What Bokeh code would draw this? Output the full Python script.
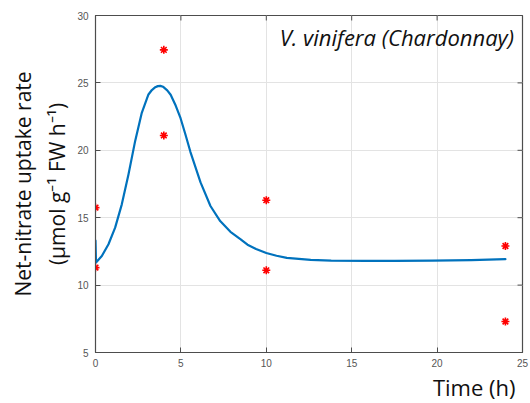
from bokeh.plotting import figure
from bokeh.models import Range1d, Label, Title, FixedTicker
from bokeh.embed import file_html
from bokeh.resources import INLINE

# Measured net-nitrate uptake (two replicates per sampling time)
obs_time = [0, 0, 4, 4, 10, 10, 24, 24]
obs_rate = [15.75, 11.3, 27.45, 21.1, 16.3, 11.1, 12.9, 7.3]

# Fitted model response
fit_time = [0, 0.03, 0.37, 0.76, 1.15, 1.54, 1.93, 2.32, 2.71, 3.1, 3.3, 3.5,
            3.65, 3.8, 3.95, 4.2, 4.4, 4.7, 4.98, 5.27, 5.56, 6.15, 6.73, 7.3, 7.9,
            8.5, 8.9, 9.4, 10.0, 10.6, 11.2, 12.6, 13.8, 15.8, 17.5, 19.7, 22.0, 24.0]
fit_rate = [13.3, 11.68, 12.16, 13.03, 14.26, 15.99, 18.21, 20.68, 22.78, 24.14,
            24.47, 24.68, 24.76, 24.78, 24.72, 24.45, 24.12, 23.3, 22.38, 21.15,
            19.87, 17.62, 15.87, 14.75, 13.95, 13.4, 13.0, 12.68, 12.38, 12.18,
            12.02, 11.87, 11.82, 11.8, 11.8, 11.82, 11.86, 11.92]

x_ticks = [0, 5, 10, 15, 20, 25]
y_ticks = [5, 10, 15, 20, 25, 30]

title_text = "V. vinifera (Chardonnay)"
x_label = "Time (h)"
y_label_1 = "Net-nitrate uptake rate"
y_label_2 = "(\u00b5mol g\u207b\u00b9 FW h\u207b\u00b9)"

X0, X1, Y0, Y1 = 0, 25, 5, 30

p = figure(width=530, height=403, output_backend="svg", toolbar_location=None,
           x_range=Range1d(X0, X1), y_range=Range1d(Y0, Y1),
           min_border_left=95, min_border_right=8, min_border_top=15,
           min_border_bottom=51)
p.background_fill_color = "white"
p.border_fill_color = "white"
p.outline_line_color = "#4d4d4d"
p.outline_line_width = 1.2

axis_col = "#4d4d4d"
for ax in (p.xaxis[0], p.yaxis[0]):
    ax.major_tick_in = 5
    ax.major_tick_out = 0
    ax.minor_tick_in = 0
    ax.minor_tick_out = 0
    ax.axis_line_color = axis_col
    ax.major_tick_line_color = axis_col
    ax.major_label_text_font = "Liberation Sans"
    ax.major_label_text_font_size = "10px"
    ax.major_label_text_color = "#555555"
p.xaxis[0].ticker = FixedTicker(ticks=x_ticks)
p.yaxis[0].ticker = FixedTicker(ticks=y_ticks)
p.xaxis[0].major_label_standoff = 6
p.yaxis[0].major_label_standoff = 7

p.xgrid.ticker = FixedTicker(ticks=x_ticks)
p.ygrid.ticker = FixedTicker(ticks=y_ticks)
p.grid.grid_line_color = "#e3e3e3"
p.grid.grid_line_width = 1

# Inward tick marks mirrored on the top and right edges of the box
tick_dx = 0.29
tick_dy = 0.37
p.segment(x0=x_ticks, x1=x_ticks, y0=[Y1] * len(x_ticks),
          y1=[Y1 - tick_dy] * len(x_ticks), line_color=axis_col, line_width=1)
p.segment(x0=[X1] * len(y_ticks), x1=[X1 - tick_dx] * len(y_ticks),
          y0=y_ticks, y1=y_ticks, line_color=axis_col, line_width=1)

p.line(fit_time, fit_rate, line_color="#0072BD", line_width=2.2,
       line_join="round", line_cap="round")
p.scatter(obs_time, obs_rate, marker="asterisk", size=8, line_color="#ff0000",
          line_width=1.6)

p.add_layout(Label(x=24.5, y=29.5, text=title_text, text_align="right",
                   text_baseline="top", text_font="Open Sans",
                   text_font_style="italic", text_font_size="22px",
                   text_color="#111111"))

# Axis titles
p.add_layout(Title(text=x_label, align="right", offset=7, standoff=0,
                   text_font="Open Sans", text_font_style="normal",
                   text_font_size="22px", text_color="#111111"), "below")
p.add_layout(Title(text=y_label_2, align="center", standoff=8,
                   text_line_height=0.8, offset=-4,
                   text_font="Open Sans", text_font_style="normal",
                   text_font_size="21px", text_color="#111111"), "left")
p.add_layout(Title(text=y_label_1, align="center", standoff=0,
                   text_line_height=0.8, offset=-4,
                   text_font="Open Sans", text_font_style="normal",
                   text_font_size="21px", text_color="#111111"), "left")

open("out.html", "w").write(file_html(p, INLINE))
